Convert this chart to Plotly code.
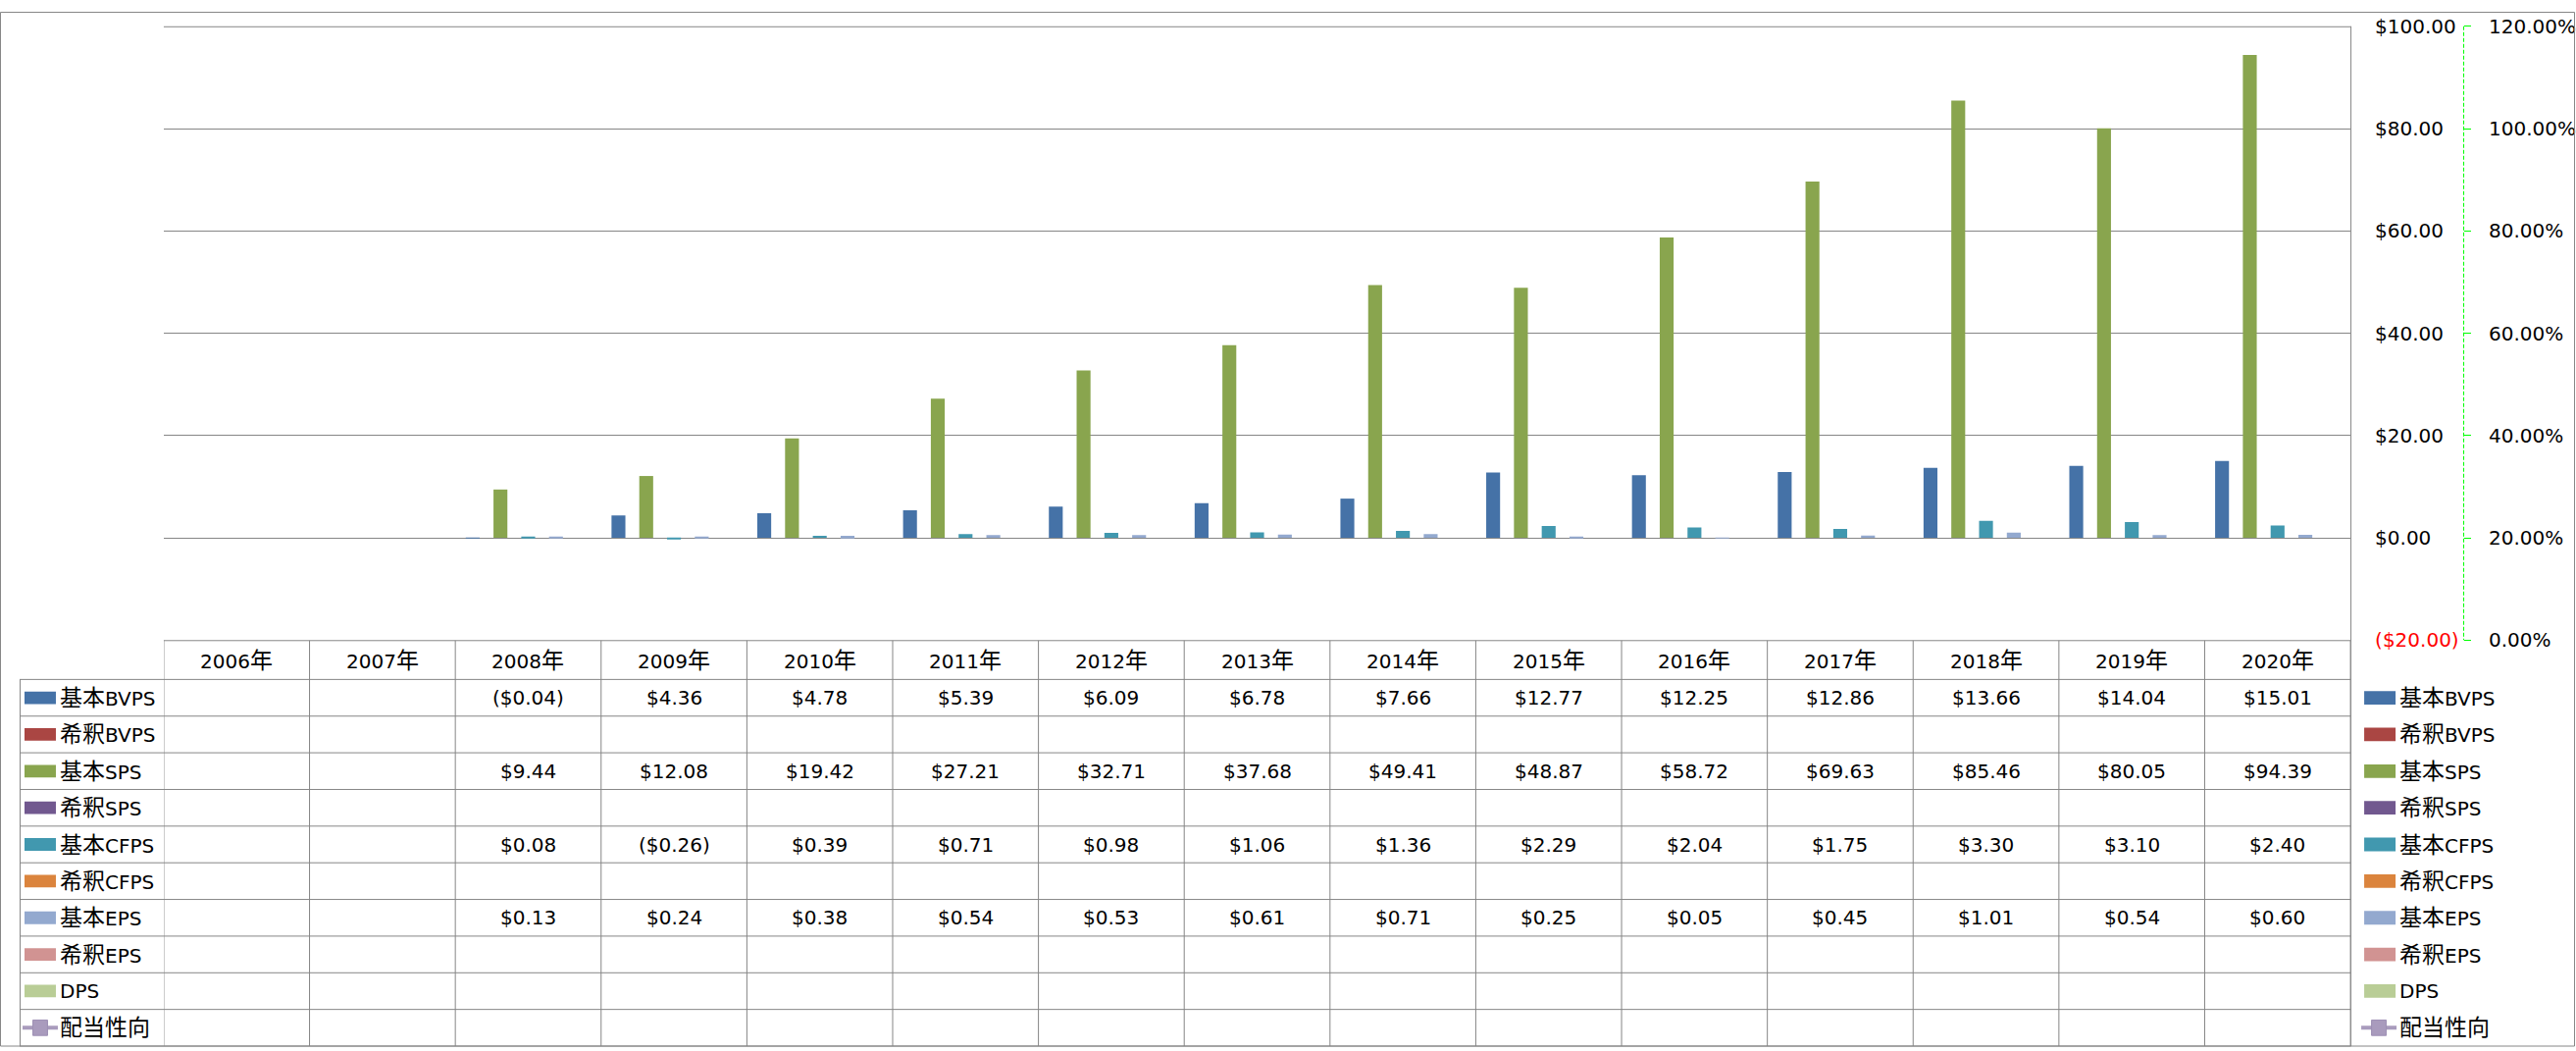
import re
import plotly.graph_objects as go

W, H = 2626, 1071          # reference canvas used for positioning
FIG_H = 1079               # rendered height (the capture is scaled back to 1071)

# ---------------- data ----------------
years = ["2006年", "2007年", "2008年", "2009年", "2010年", "2011年", "2012年", "2013年",
         "2014年", "2015年", "2016年", "2017年", "2018年", "2019年", "2020年"]

series_names = ["基本BVPS", "希釈BVPS", "基本SPS", "希釈SPS", "基本CFPS",
                "希釈CFPS", "基本EPS", "希釈EPS", "DPS"]
line_name = "配当性向"

basic_bvps = [None, None, -0.04, 4.36, 4.78, 5.39, 6.09, 6.78, 7.66, 12.77, 12.25, 12.86, 13.66, 14.04, 15.01]
diluted_bvps = [None, None, None, None, None, None, None, None, None, None, None, None, None, None, None]
basic_sps = [None, None, 9.44, 12.08, 19.42, 27.21, 32.71, 37.68, 49.41, 48.87, 58.72, 69.63, 85.46, 80.05, 94.39]
diluted_sps = [None, None, None, None, None, None, None, None, None, None, None, None, None, None, None]
basic_cfps = [None, None, 0.08, -0.26, 0.39, 0.71, 0.98, 1.06, 1.36, 2.29, 2.04, 1.75, 3.30, 3.10, 2.40]
diluted_cfps = [None, None, None, None, None, None, None, None, None, None, None, None, None, None, None]
basic_eps = [None, None, 0.13, 0.24, 0.38, 0.54, 0.53, 0.61, 0.71, 0.25, 0.05, 0.45, 1.01, 0.54, 0.60]
diluted_eps = [None, None, None, None, None, None, None, None, None, None, None, None, None, None, None]
dps = [None, None, None, None, None, None, None, None, None, None, None, None, None, None, None]
payout_ratio = [None, None, None, None, None, None, None, None, None, None, None, None, None, None, None]

bar_series = [basic_bvps, diluted_bvps, basic_sps, diluted_sps, basic_cfps,
              diluted_cfps, basic_eps, diluted_eps, dps]

usd_ticks = [-20, 0, 20, 40, 60, 80, 100]
pct_ticks = [0, 0.2, 0.4, 0.6, 0.8, 1.0, 1.2]

# ---------------- style ----------------
colors = ["#4572A7", "#AA4643", "#89A54E", "#71588F", "#4198AF",
          "#DB843D", "#93A9CF", "#D19392", "#B9CD96"]
line_color = "#A99BBD"
grid_color = "#868686"
FONT = "DejaVu Sans, Noto Sans CJK JP, sans-serif"
FS = 20
CJK_FS = 23

# pixel layout helpers (reference pixels)
PL, PR, PT, PB = 167, 2397, 15, 650          # plot area
TBL_LEFT = 20
HDR_TOP = 650.5
ROW_TOP = 690.7
BOTTOM = 1070.0
N_ROWS = 10
ROW_H = (BOTTOM - ROW_TOP) / N_ROWS


def px(x):
    return x / W


def py(y):
    return 1 - y / H


def usd(v):
    if v is None:
        return ""
    if v < 0:
        return "(${:,.2f})".format(-v)
    return "${:,.2f}".format(v)


def cjk(s):
    # render CJK runs slightly larger, like the original Japanese UI font
    return re.sub(r"([^\x00-\x7f]+)",
                  lambda m: '<span style="font-size:%dpx">%s</span>' % (CJK_FS, m.group(1)), s)


fig = go.Figure()

for name, vals, col in zip(series_names, bar_series, colors):
    fig.add_trace(go.Bar(
        x=years, y=vals, name=name, marker=dict(color=col, line=dict(width=0)),
        showlegend=False, xaxis="x", yaxis="y"))

fig.add_trace(go.Scatter(
    x=years, y=payout_ratio, name=line_name, mode="lines+markers",
    line=dict(color=line_color, width=4), marker=dict(symbol="square", size=12, color=line_color),
    showlegend=False, xaxis="x", yaxis="y3"))

usd_text = []
for v in usd_ticks:
    if v < 0:
        usd_text.append('<span style="color:#FF0000">' + usd(v) + '</span>')
    else:
        usd_text.append(usd(v))

fig.update_layout(
    width=W, height=FIG_H,
    margin=dict(l=0, r=0, t=0, b=0),
    paper_bgcolor="white", plot_bgcolor="white",
    barmode="group", bargap=1.5 / 10.5, bargroupgap=0,
    font=dict(family=FONT, size=FS, color="black"),
    xaxis=dict(domain=[px(PL), px(PR)], type="category", range=[-0.5, 14.5],
               showticklabels=False, showgrid=False, zeroline=False, showline=False, ticks=""),
    yaxis=dict(domain=[py(PB), py(PT)], range=[-20, 100], side="right",
               tickvals=usd_ticks, ticktext=usd_text, ticks="",
               showgrid=True, gridcolor=grid_color, gridwidth=1,
               zeroline=False, showline=False,
               tickfont=dict(family=FONT, size=FS, color="black"),
               ticklabelstandoff=24),
    yaxis3=dict(overlaying="y", side="right", anchor="free", position=px(2512),
                range=[0, 1.2], tickvals=pct_ticks, tickformat=".2%",
                ticks="outside", ticklen=7, tickcolor="#00FF00", tickwidth=1,
                showgrid=False, zeroline=False, showline=False,
                tickfont=dict(family=FONT, size=FS, color="black"),
                ticklabelstandoff=14),
    showlegend=False,
)

shapes = []
annots = []
gl = dict(color=grid_color, width=1)

# outer chart border
shapes.append(dict(type="rect", xref="paper", yref="paper",
                   x0=px(0.5), x1=px(W - 0.5), y0=py(0.5), y1=py(BOTTOM),
                   line=gl, fillcolor="rgba(0,0,0,0)", layer="above"))
# plot area top and right border
shapes.append(dict(type="line", xref="paper", yref="paper",
                   x0=px(PL), x1=px(PR + 0.5), y0=py(PT + 0.5), y1=py(PT + 0.5), line=gl))
shapes.append(dict(type="line", xref="paper", yref="paper",
                   x0=px(PR + 0.5), x1=px(PR + 0.5), y0=py(PT), y1=py(BOTTOM), line=gl))
# dashed secondary axis line
shapes.append(dict(type="line", xref="paper", yref="paper",
                   x0=px(2512.5), x1=px(2512.5), y0=py(PT), y1=py(PB),
                   line=dict(color="#00FF00", width=1, dash="4px,2px")))

# table horizontal lines
shapes.append(dict(type="line", xref="paper", yref="paper",
                   x0=px(PL), x1=px(PR + 0.5), y0=py(HDR_TOP), y1=py(HDR_TOP), line=gl))
for i in range(N_ROWS + 1):
    yy = ROW_TOP + i * ROW_H
    shapes.append(dict(type="line", xref="paper", yref="paper",
                       x0=px(TBL_LEFT), x1=px(PR + 0.5), y0=py(yy), y1=py(yy), line=gl))
# table vertical lines
shapes.append(dict(type="line", xref="paper", yref="paper",
                   x0=px(TBL_LEFT + 0.5), x1=px(TBL_LEFT + 0.5),
                   y0=py(ROW_TOP), y1=py(BOTTOM), line=gl))
for i in range(len(years) + 1):
    shapes.append(dict(type="line", xref="x", yref="paper",
                       x0=i - 0.5, x1=i - 0.5, y0=py(HDR_TOP), y1=py(BOTTOM), line=gl))

# header row
for yr in years:
    annots.append(dict(x=yr, y=py((HDR_TOP + ROW_TOP) / 2), xref="x", yref="paper",
                       text=cjk(yr), showarrow=False, xanchor="center", yanchor="middle",
                       font=dict(family=FONT, size=FS, color="black")))

# data rows
all_names = series_names + [line_name]
for r, name in enumerate(all_names):
    yc = ROW_TOP + (r + 0.5) * ROW_H
    if r < len(bar_series):
        for yr, v in zip(years, bar_series[r]):
            if v is not None:
                annots.append(dict(x=yr, y=py(yc), xref="x", yref="paper", text=usd(v),
                                   showarrow=False, xanchor="center", yanchor="middle",
                                   font=dict(family=FONT, size=FS, color="black")))
        # left key swatch and right legend swatch
        shapes.append(dict(type="rect", xref="paper", yref="paper",
                           x0=px(25), x1=px(57), y0=py(yc - 6.5), y1=py(yc + 6.5),
                           fillcolor=colors[r], line=dict(width=0)))
        shapes.append(dict(type="rect", xref="paper", yref="paper",
                           x0=px(2411), x1=px(2443), y0=py(yc - 7), y1=py(yc + 7),
                           fillcolor=colors[r], line=dict(width=0)))
    else:
        for (a, b) in [(23, 59), (2408, 2444)]:
            shapes.append(dict(type="line", xref="paper", yref="paper",
                               x0=px(a), x1=px(b), y0=py(yc), y1=py(yc),
                               line=dict(color=line_color, width=4)))
            m = (a + b) / 2
            shapes.append(dict(type="rect", xref="paper", yref="paper",
                               x0=px(m - 7.5), x1=px(m + 7.5), y0=py(yc - 8), y1=py(yc + 8),
                               fillcolor=line_color, line=dict(color="#9D8FB4", width=1)))
    annots.append(dict(x=px(59), y=py(yc), xref="paper", yref="paper", text=cjk(name),
                       showarrow=False, xanchor="left", yanchor="middle",
                       font=dict(family=FONT, size=FS, color="black")))
    annots.append(dict(x=px(2445), y=py(yc), xref="paper", yref="paper", text=cjk(name),
                       showarrow=False, xanchor="left", yanchor="middle",
                       font=dict(family=FONT, size=FS, color="black")))

fig.update_layout(shapes=shapes, annotations=annots)
fig.write_html("out.html")
